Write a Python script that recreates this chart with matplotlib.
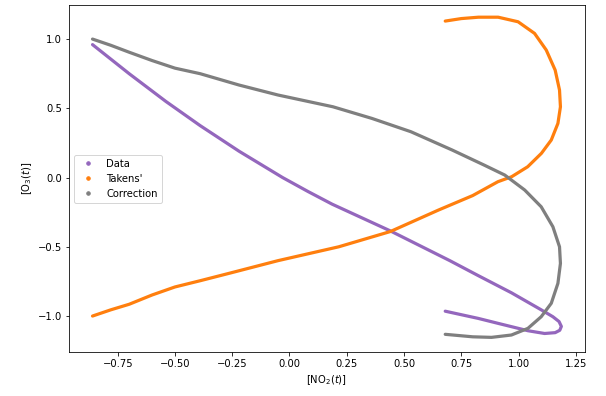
import numpy as np
import matplotlib
matplotlib.use("Agg")
import matplotlib.pyplot as plt
from matplotlib.lines import Line2D
from matplotlib.ticker import MultipleLocator

# values
data_x = [-0.86, -0.70, -0.54, -0.39, -0.22, -0.12, -0.03, 0.08, 0.186, 0.44,
          0.70, 0.824, 0.969, 1.099, 1.15, 1.177, 1.187, 1.18, 1.16, 1.114,
          1.041, 0.911, 0.824, 0.68]
data_y = [0.96, 0.75, 0.55, 0.375, 0.19, 0.09, 0.0, -0.1, -0.192, -0.385,
          -0.60, -0.708, -0.832, -0.955, -1.005, -1.04, -1.075, -1.103, -1.12, -1.126,
          -1.106, -1.053, -1.017, -0.965]

takens_x = [-0.86, -0.78, -0.70, -0.60, -0.50, -0.39, -0.26, -0.05, 0.215, 0.44,
            0.65, 0.80, 0.91, 0.97, 1.04, 1.10, 1.143, 1.172, 1.183, 1.179,
            1.16, 1.121, 1.07, 0.998, 0.911, 0.825, 0.75, 0.68]
takens_y = [-1.00, -0.955, -0.915, -0.848, -0.79, -0.745, -0.69, -0.60, -0.50, -0.39,
            -0.235, -0.13, -0.03, 0.006, 0.078, 0.175, 0.271, 0.391, 0.511, 0.632,
            0.776, 0.921, 1.041, 1.125, 1.158, 1.158, 1.148, 1.13]

corr_x = [-0.86, -0.78, -0.70, -0.60, -0.50, -0.39, -0.22, -0.05, 0.19, 0.36,
          0.53, 0.71, 0.85, 0.94, 1.027, 1.099, 1.15, 1.179, 1.183, 1.172,
          1.143, 1.099, 1.041, 0.969, 0.882, 0.80, 0.68]
corr_y = [1.00, 0.955, 0.905, 0.845, 0.79, 0.75, 0.668, 0.596, 0.511, 0.427,
          0.331, 0.199, 0.09, 0.018, -0.09, -0.211, -0.355, -0.50, -0.62, -0.764,
          -0.908, -1.005, -1.089, -1.137, -1.154, -1.15, -1.132]

labels = ["Data", "Takens'", "Correction"]
colors = ["tab:purple", "tab:orange", "tab:gray"]

fig = plt.figure(figsize=(606 / 72, 396 / 72), dpi=72)
ax = fig.add_subplot(111)
fig.subplots_adjust(left=0.114, right=0.965, bottom=0.111, top=0.987)

for xs, ys, c in zip([data_x, takens_x, corr_x], [data_y, takens_y, corr_y], colors):
    ax.plot(xs, ys, color=c, lw=3.2, solid_capstyle="round", solid_joinstyle="round")

ax.set_ylim(-1.26, 1.245)
ax.xaxis.set_major_locator(MultipleLocator(0.25))
ax.yaxis.set_major_locator(MultipleLocator(0.5))

handles = [Line2D([], [], marker="o", ls="", ms=3.5, color=c) for c in colors]
ax.legend(handles, labels, loc="center left")

ax.set_xlabel(r"[NO$_2(t)$]")
ax.set_ylabel(r"[O$_3(t)$]")

plt.savefig("out.png", dpi=72)
